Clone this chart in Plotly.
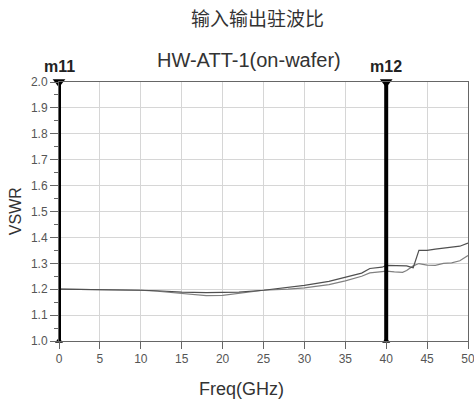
import plotly.graph_objects as go

# frequency sweep (GHz) and the two VSWR traces
freq = [0, 5, 10, 12, 15, 18, 20, 22, 25, 28, 30, 33, 35, 37, 38, 39.5, 40,
        41, 42, 42.5, 43, 43.3, 44, 45, 46, 47, 48, 49, 50]
vswr_in = [1.200, 1.199, 1.196, 1.194, 1.189, 1.187, 1.188, 1.189, 1.196, 1.207,
           1.215, 1.230, 1.245, 1.262, 1.280, 1.285, 1.292, 1.292, 1.292, 1.290,
           1.285, 1.283, 1.350, 1.350, 1.355, 1.358, 1.362, 1.366, 1.378]
vswr_out = [1.200, 1.199, 1.196, 1.192, 1.183, 1.175, 1.176, 1.183, 1.196, 1.200,
            1.205, 1.218, 1.232, 1.250, 1.263, 1.268, 1.270, 1.267, 1.265, 1.272,
            1.283, 1.290, 1.299, 1.293, 1.292, 1.300, 1.302, 1.310, 1.330]

marker_names = ["m11", "m12"]
marker_freqs = [0, 40]

x_ticks = list(range(0, 51, 5))
y_min, y_max = 1.0, 2.0

FONT = "Liberation Sans, Arial, sans-serif"

fig = go.Figure()

fig.add_trace(go.Scatter(x=freq, y=vswr_out, mode="lines",
                         line=dict(color="#808080", width=1.2), showlegend=False))
fig.add_trace(go.Scatter(x=freq, y=vswr_in, mode="lines",
                         line=dict(color="#505050", width=1.2), showlegend=False))

# --- markers m11 / m12 ---
for name, f in zip(marker_names, marker_freqs):
    fig.add_shape(type="line", xref="x", yref="y", x0=f, x1=f, y0=y_min, y1=y_max,
                  line=dict(color="black", width=4))
    fig.add_annotation(x=f, y=y_max, xref="x", yref="y", text="<b>%s</b>" % name,
                       showarrow=False, yshift=16,
                       font=dict(family=FONT, size=16, color="#222"))
fig.add_trace(go.Scatter(x=marker_freqs, y=[y_max] * len(marker_freqs), mode="markers",
                         marker=dict(symbol="triangle-down", size=11, color="black"),
                         cliponaxis=False, showlegend=False))
fig.add_trace(go.Scatter(x=marker_freqs, y=[y_min] * len(marker_freqs), mode="markers",
                         marker=dict(symbol="triangle-up", size=7, color="black"),
                         cliponaxis=False, showlegend=False))

# --- titles ---
def label(text, x, y, size, family=FONT, angle=0):
    fig.add_annotation(x=x, y=y, xref="paper", yref="paper", text=text, textangle=angle,
                       xanchor="center", yanchor="middle", showarrow=False,
                       font=dict(family=family, size=size, color="#333"))

label("输入输出驻波比", 0.485, 1.249, 19, family="Noto Sans CJK SC")
label("HW-ATT-1(on-wafer)", 0.4645, 1.085, 20)
label("Freq(GHz)", 0.446, -0.185, 18)
label("VSWR", -0.106, 0.5, 16, angle=-90)

fig.update_xaxes(range=[0, 50], tickvals=x_ticks, ticks="outside", ticklen=7,
                 tickcolor="#666", showgrid=True, gridcolor="#d6d6d6", gridwidth=1,
                 showline=True, linecolor="#666", mirror=True, zeroline=False,
                 ticklabeloverflow="allow", automargin=False,
                 tickfont=dict(family=FONT, size=12, color="#555"))
fig.update_yaxes(range=[y_min, y_max], dtick=0.1, tickformat=".1f", ticks="outside",
                 ticklen=8, tickcolor="#666", showgrid=True, gridcolor="#d6d6d6",
                 gridwidth=1, showline=True, linecolor="#666", mirror=True, zeroline=False,
                 automargin=False,
                 minor=dict(ticks="outside", ticklen=4, dtick=0.05, tickcolor="#666"),
                 tickfont=dict(family=FONT, size=12, color="#555"))

fig.update_layout(width=474, height=404, margin=dict(l=59, r=6, t=82, b=63),
                  plot_bgcolor="white", paper_bgcolor="white")

# page body has a default 8px margin; drop it so the figure fills the window
fig.write_html("out.html", config={"displayModeBar": False},
               post_script="document.body.style.margin='0';")
